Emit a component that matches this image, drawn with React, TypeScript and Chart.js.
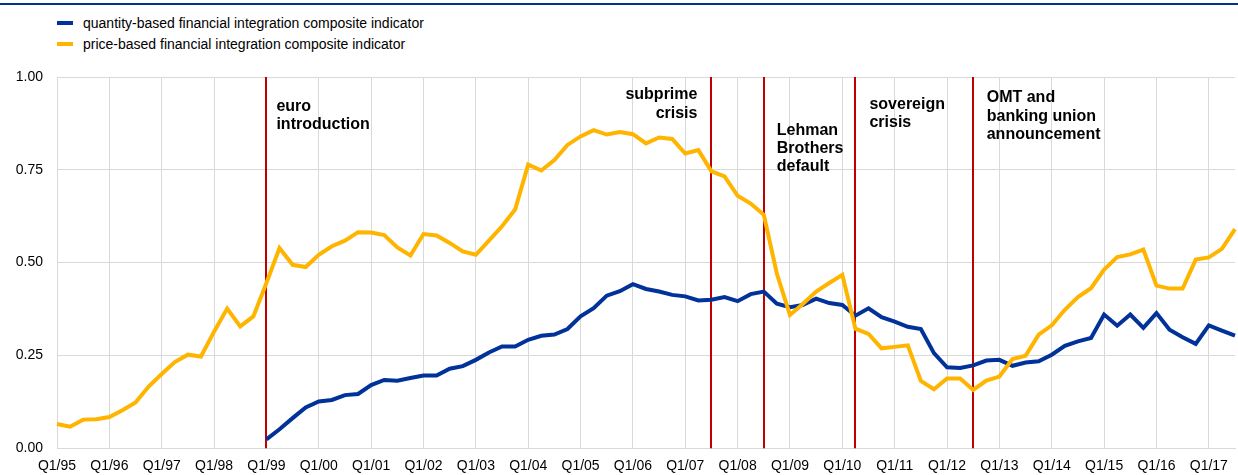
import React, { useEffect, useRef } from "react";
import { Chart, registerables } from "chart.js";

Chart.register(...registerables);

// ---------- data ----------
const YEARS = ["95", "96", "97", "98", "99", "00", "01", "02", "03", "04", "05", "06", "07", "08", "09", "10", "11", "12", "13", "14", "15", "16", "17"];
const QUARTERS: string[] = YEARS.flatMap((y) => ["Q1", "Q2", "Q3", "Q4"].map((q) => `${q}/${y}`)).slice(0, 91);

const priceBased = [
  0.065, 0.058, 0.077, 0.078,
  0.084, 0.102, 0.123, 0.166,
  0.200, 0.232, 0.252, 0.247,
  0.314, 0.376, 0.328, 0.355,
  0.445, 0.539, 0.494, 0.488,
  0.521, 0.544, 0.559, 0.582,
  0.581, 0.574, 0.541, 0.519,
  0.577, 0.573, 0.553, 0.530,
  0.521, 0.559, 0.598, 0.643,
  0.764, 0.748, 0.776, 0.817,
  0.840, 0.857, 0.845, 0.852,
  0.846, 0.821, 0.837, 0.833,
  0.794, 0.803, 0.746, 0.732,
  0.680, 0.659, 0.629, 0.470,
  0.359, 0.389, 0.422, 0.445,
  0.467, 0.322, 0.308, 0.269,
  0.273, 0.277, 0.181, 0.159,
  0.188, 0.188, 0.157, 0.182,
  0.193, 0.240, 0.249, 0.306,
  0.331, 0.373, 0.407, 0.431,
  0.481, 0.515, 0.522, 0.535,
  0.438, 0.430, 0.430, 0.508,
  0.514, 0.537, 0.590,
];

const quantityBased = [
  null, null, null, null,
  null, null, null, null,
  null, null, null, null,
  null, null, null, null,
  0.024, 0.051, 0.081, 0.110,
  0.126, 0.130, 0.143, 0.146,
  0.170, 0.184, 0.182, 0.189,
  0.196, 0.196, 0.214, 0.221,
  0.238, 0.258, 0.274, 0.274,
  0.292, 0.303, 0.306, 0.321,
  0.355, 0.377, 0.411, 0.423,
  0.442, 0.429, 0.422, 0.413,
  0.409, 0.398, 0.400, 0.407,
  0.396, 0.415, 0.422, 0.389,
  0.380, 0.386, 0.403, 0.391,
  0.386, 0.357, 0.377, 0.353,
  0.341, 0.327, 0.321, 0.256,
  0.218, 0.216, 0.223, 0.236,
  0.238, 0.222, 0.231, 0.234,
  0.252, 0.276, 0.288, 0.297,
  0.360, 0.330, 0.360, 0.324,
  0.364, 0.319, 0.299, 0.281,
  0.331, 0.317, 0.303,
];

const Y_TICKS = [0, 0.25, 0.5, 0.75, 1];

const SERIES_NAMES = [
  "quantity-based financial integration composite indicator",
  "price-based financial integration composite indicator",
];

const EVENT_QUARTERS = ["Q1/99", "Q3/07", "Q3/08", "Q2/10", "Q3/12"];
const EVENT_LABELS = [
  ["euro", "introduction"],
  ["subprime", "crisis"],
  ["Lehman", "Brothers", "default"],
  ["sovereign", "crisis"],
  ["OMT and", "banking union", "announcement"],
];

// ---------- styles ----------
const BLUE = "#003299";
const YELLOW = "#ffb400";
const RED = "#c00000";
const GRID = "#d9d9d9";
const FONT = "'Liberation Sans', Arial, Helvetica, sans-serif";

// text placement per event: horizontal offset from line, alignment, baseline offset from chart top
const EVENT_TEXT_LAYOUT: { dx: number; align: CanvasTextAlign; dy: number }[] = [
  { dx: 10, align: "left", dy: 33.5 },
  { dx: -14, align: "right", dy: 22.3 },
  { dx: 13, align: "left", dy: 58 },
  { dx: 14, align: "left", dy: 32 },
  { dx: 13.5, align: "left", dy: 25.3 },
];
const EVENT_LINE_HEIGHT = 18.2;

const eventPlugin = {
  id: "events",
  beforeDatasetsDraw(chart: any) {
    const { ctx, chartArea, scales } = chart;
    const x = scales.x;
    ctx.save();
    ctx.strokeStyle = RED;
    ctx.lineWidth = 2;
    EVENT_QUARTERS.forEach((q) => {
      const px = Math.round(x.getPixelForValue(QUARTERS.indexOf(q)));
      ctx.beginPath();
      ctx.moveTo(px, chartArea.top);
      ctx.lineTo(px, chartArea.bottom);
      ctx.stroke();
    });
    ctx.restore();
  },
  afterDatasetsDraw(chart: any) {
    const { ctx, chartArea, scales } = chart;
    const x = scales.x;
    ctx.save();
    ctx.fillStyle = "#000";
    ctx.font = `bold 16px ${FONT}`;
    ctx.textBaseline = "alphabetic";
    EVENT_QUARTERS.forEach((q, i) => {
      const px = x.getPixelForValue(QUARTERS.indexOf(q));
      const lay = EVENT_TEXT_LAYOUT[i];
      ctx.textAlign = lay.align;
      EVENT_LABELS[i].forEach((line, j) => {
        ctx.fillText(line, px + lay.dx, chartArea.top + lay.dy + j * EVENT_LINE_HEIGHT);
      });
    });
    ctx.restore();
  },
};

export default function App() {
  const canvasRef = useRef<HTMLCanvasElement | null>(null);

  useEffect(() => {
    document.body.style.margin = "0";
    const canvas = canvasRef.current;
    if (!canvas) return;
    Chart.defaults.font.family = FONT;
    Chart.defaults.font.size = 14;
    Chart.defaults.color = "#000";

    const chart = new Chart(canvas, {
      type: "line",
      data: {
        labels: QUARTERS,
        datasets: [
          {
            label: SERIES_NAMES[0],
            data: quantityBased,
            borderColor: BLUE,
            backgroundColor: BLUE,
            borderWidth: 4,
            pointRadius: 0,
            tension: 0,
            order: 1,
          },
          {
            label: SERIES_NAMES[1],
            data: priceBased,
            borderColor: YELLOW,
            backgroundColor: YELLOW,
            borderWidth: 4,
            pointRadius: 0,
            tension: 0,
            order: 0,
          },
        ],
      },
      options: {
        animation: false,
        responsive: false,
        devicePixelRatio: 1,
        layout: { padding: { top: 77, bottom: 0, left: 0, right: 3 } },
        plugins: {
          legend: { display: false },
          tooltip: { enabled: false },
        },
        scales: {
          x: {
            type: "category",
            offset: false,
            afterFit: (scale: any) => {
              scale.paddingLeft = 0;
              scale.paddingRight = 0;
            },
            grid: {
              drawTicks: false,
              color: (ctx: any) => (ctx.index % 4 === 0 ? GRID : "rgba(0,0,0,0)"),
              lineWidth: 1,
            },
            border: { display: true, color: GRID },
            ticks: {
              autoSkip: false,
              maxRotation: 0,
              minRotation: 0,
              padding: 10,
              color: "#000",
              font: { size: 14, family: FONT },
              callback: (_v: any, i: number) => (i % 4 === 0 ? QUARTERS[i] : ""),
            },
          },
          y: {
            min: Y_TICKS[0],
            max: Y_TICKS[Y_TICKS.length - 1],
            afterFit: (scale: any) => {
              scale.width = 57;
            },
            afterBuildTicks: (scale: any) => {
              scale.ticks = Y_TICKS.map((v) => ({ value: v }));
            },
            grid: { drawTicks: false, color: GRID },
            border: { display: true, color: GRID },
            ticks: {
              padding: 14,
              color: "#000",
              font: { size: 14, family: FONT },
              callback: (v: any) => Number(v).toFixed(2),
            },
          },
        },
      },
      plugins: [eventPlugin],
    });
    return () => chart.destroy();
  }, []);

  const legendRow = (color: string, text: string, swatchTop: number, textTop: number) => (
    <>
      <div style={{ position: "absolute", left: 57, top: swatchTop, width: 16, height: 4, background: color }} />
      <div
        style={{
          position: "absolute",
          left: 83,
          top: textTop,
          fontFamily: FONT,
          fontSize: 14,
          lineHeight: "16px",
          color: "#000",
          whiteSpace: "nowrap",
        }}
      >
        {text}
      </div>
    </>
  );

  return (
    <div style={{ position: "relative", width: 1238, height: 475, overflow: "hidden", background: "#fff" }}>
      <div style={{ position: "absolute", left: 0, top: 3, width: 1238, height: 2, background: BLUE }} />
      {legendRow(BLUE, SERIES_NAMES[0], 21, 14.6)}
      {legendRow(YELLOW, SERIES_NAMES[1], 42, 35.6)}
      <canvas
        ref={canvasRef}
        width={1238}
        height={485}
        style={{ position: "absolute", left: 0, top: 0, width: 1238, height: 485 }}
      />
    </div>
  );
}
